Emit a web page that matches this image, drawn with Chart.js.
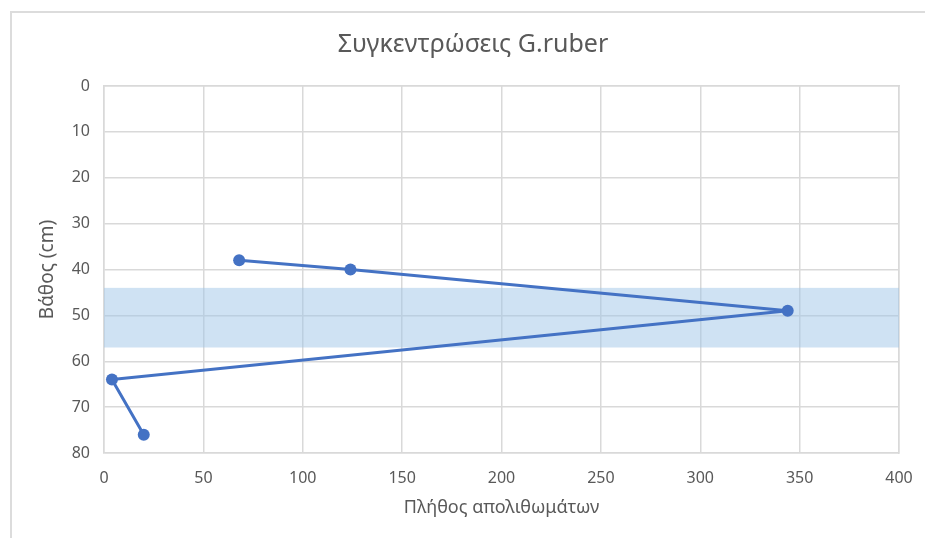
<!DOCTYPE html>
<html>
<head>
<meta charset="utf-8">
<script src="https://cdn.jsdelivr.net/npm/chart.js@4/dist/chart.umd.min.js"></script>
<style>
  html, body { margin: 0; padding: 0; background: #ffffff; }
  #wrap { position: relative; width: 925px; height: 538px; }
</style>
</head>
<body>
<div id="wrap"><canvas id="chart" width="925" height="538"></canvas></div>
<script>
// Fossil counts by depth
const counts = [68, 124, 344, 4, 20];
const depths = [38, 40, 49, 64, 76];
// Highlighted depth interval (cm)
const bandTop = 44;
const bandBottom = 57;

const chartTitle = 'Συγκεντρώσεις G.ruber';
const xTitle = 'Πλήθος απολιθωμάτων';
const yTitle = 'Βάθος (cm)';

const points = counts.map((c, i) => ({ x: c, y: depths[i] }));

const textColor = '#595959';
const gridColor = '#d9d9d9';
const lineColor = '#4472c4';
const fontFamily = '"Noto Sans", "Open Sans", sans-serif';

// Light frame around the chart object
const framePlugin = {
  id: 'frame',
  beforeDraw(chart) {
    const ctx = chart.ctx;
    ctx.save();
    ctx.strokeStyle = '#dcdcdc';
    ctx.lineWidth = 2;
    ctx.beginPath();
    ctx.moveTo(11, 538);
    ctx.lineTo(11, 12);
    ctx.lineTo(925, 12);
    ctx.stroke();
    ctx.restore();
  }
};

// Shaded depth interval across the plot
const bandPlugin = {
  id: 'band',
  beforeDatasetsDraw(chart) {
    const { ctx, chartArea, scales } = chart;
    const y1 = scales.y.getPixelForValue(bandTop);
    const y2 = scales.y.getPixelForValue(bandBottom);
    ctx.save();
    ctx.fillStyle = 'rgba(160, 198, 232, 0.5)';
    ctx.fillRect(chartArea.left, Math.min(y1, y2), chartArea.right - chartArea.left, Math.abs(y2 - y1));
    ctx.restore();
  }
};

new Chart(document.getElementById('chart'), {
  type: 'scatter',
  data: {
    datasets: [{
      data: points,
      showLine: true,
      borderColor: lineColor,
      backgroundColor: lineColor,
      borderWidth: 3,
      pointRadius: 6,
      pointHoverRadius: 6,
      pointBorderWidth: 0,
      tension: 0
    }]
  },
  options: {
    responsive: false,
    animation: false,
    layout: { padding: { left: 21, right: 0, top: 0, bottom: 0 } },
    plugins: {
      legend: { display: false },
      tooltip: { enabled: false },
      title: {
        display: true,
        text: chartTitle,
        color: textColor,
        font: { family: fontFamily, size: 25, weight: 'normal' },
        padding: { top: 30, bottom: 26 }
      }
    },
    scales: {
      x: {
        type: 'linear',
        min: 0,
        max: 400,
        ticks: {
          stepSize: 50,
          color: textColor,
          padding: 16,
          font: { family: fontFamily, size: 16 }
        },
        grid: { color: gridColor, lineWidth: 1.5, drawTicks: false },
        border: { color: gridColor, width: 1.5 },
        title: {
          display: true,
          text: xTitle,
          color: textColor,
          font: { family: fontFamily, size: 18 },
          padding: { top: 0, bottom: 19 }
        },
        afterFit(scale) {
          scale.height = 85;
          scale.paddingLeft = 0;
          scale.paddingRight = 0;
        }
      },
      y: {
        type: 'linear',
        reverse: true,
        min: 0,
        max: 80,
        ticks: {
          stepSize: 10,
          color: textColor,
          padding: 14,
          font: { family: fontFamily, size: 16 }
        },
        grid: { color: gridColor, lineWidth: 1.5, drawTicks: false },
        border: { color: gridColor, width: 1.5 },
        title: {
          display: true,
          text: yTitle,
          color: textColor,
          font: { family: fontFamily, size: 19 },
          padding: { top: 15, bottom: 0 }
        },
        afterFit(scale) { scale.width = 83; }
      },
      x2: {
        type: 'linear', position: 'top', min: 0, max: 400, display: true,
        ticks: { display: false }, grid: { display: false, drawTicks: false },
        border: { color: gridColor, width: 1.5 },
        afterFit(scale) {
          scale.height = 0;
          scale.paddingLeft = 0;
          scale.paddingRight = 0;
        }
      },
      y2: {
        type: 'linear', position: 'right', min: 0, max: 80, display: true,
        ticks: { display: false }, grid: { display: false, drawTicks: false },
        border: { color: gridColor, width: 1.5 },
        afterFit(scale) { scale.width = 26; }
      }
    }
  },
  plugins: [framePlugin, bandPlugin]
});
</script>
</body>
</html>
